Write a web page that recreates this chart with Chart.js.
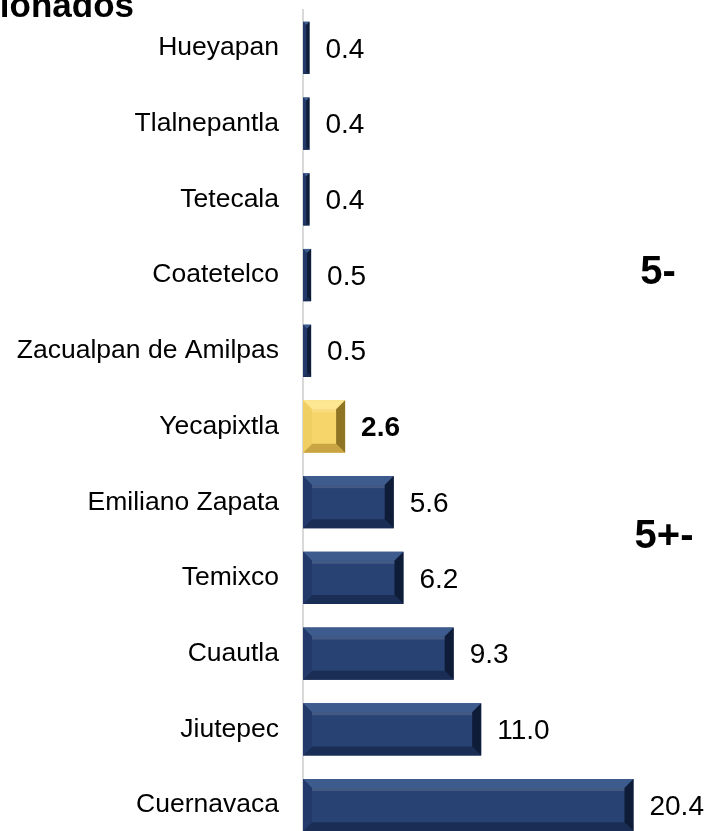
<!DOCTYPE html>
<html lang="es">
<head>
    <meta charset="UTF-8">
    <title>Municipios seleccionados</title>
    <script src="https://cdn.jsdelivr.net/npm/chart.js"></script>
    <style>
        html, body { margin: 0; padding: 0; background: #fff; overflow: hidden; }
        .chart-box { position: relative; width: 710px; height: 843px; }
    </style>
</head>
<body>
    <div class="chart-box">
        <canvas id="barChart"></canvas>
    </div>

    <script>
        const categories = ['Hueyapan', 'Tlalnepantla', 'Tetecala', 'Coatetelco', 'Zacualpan de Amilpas',
                            'Yecapixtla', 'Emiliano Zapata', 'Temixco', 'Cuautla', 'Jiutepec', 'Cuernavaca'];
        const values = [0.4, 0.4, 0.4, 0.5, 0.5, 2.6, 5.6, 6.2, 9.3, 11.0, 20.4];
        const highlighted = 'Yecapixtla';
        const titleText = 'Municipios seleccionados';
        const groupNotes = ['5-', '5+-'];

        const FONT = "'Liberation Sans', Arial, sans-serif";
        const NAVY = { main: '#284373', top: '#3d5b8c', left: '#22396a', bottom: '#1a2d55', right: '#0f1c38' };
        const GOLD = { main: '#f6d66b', top: '#fde792', left: '#f0cf62', bottom: '#c9a443', right: '#8f7424' };

        const isHi = i => categories[i] === highlighted;

        // bevel look of the office-style bars
        const bevelPlugin = {
            id: 'bevel',
            afterDatasetsDraw(chart) {
                const ctx = chart.ctx;
                chart.getDatasetMeta(0).data.forEach((bar, i) => {
                    const p = bar.getProps(['x', 'y', 'base', 'height'], true);
                    const L = Math.min(p.base, p.x), R = Math.max(p.base, p.x);
                    const T = p.y - p.height / 2, B = p.y + p.height / 2;
                    const b = Math.min(9, (R - L) / 2, p.height / 2);
                    const c = isHi(i) ? GOLD : NAVY;
                    const quad = (pts, col) => {
                        ctx.beginPath();
                        ctx.moveTo(pts[0][0], pts[0][1]);
                        pts.slice(1).forEach(q => ctx.lineTo(q[0], q[1]));
                        ctx.closePath();
                        ctx.fillStyle = col;
                        ctx.fill();
                    };
                    ctx.save();
                    quad([[L, T], [R, T], [R - b, T + b], [L + b, T + b]], c.top);
                    quad([[L, B], [R, B], [R - b, B - b], [L + b, B - b]], c.bottom);
                    quad([[L, T], [L + b, T + b], [L + b, B - b], [L, B]], c.left);
                    quad([[R, T], [R - b, T + b], [R - b, B - b], [R, B]], c.right);
                    // soft highlight under the top edge
                    ctx.fillStyle = 'rgba(255,255,255,0.12)';
                    ctx.fillRect(L + b, T + b, Math.max(0, R - L - 2 * b), 3);
                    ctx.restore();
                });
            }
        };

        const labelPlugin = {
            id: 'labels',
            afterDraw(chart) {
                const ctx = chart.ctx;
                const ys = chart.scales.y;
                const area = chart.chartArea;
                ctx.save();
                ctx.textBaseline = 'middle';
                ctx.textAlign = 'left';
                chart.getDatasetMeta(0).data.forEach((bar, i) => {
                    ctx.font = (isHi(i) ? 'bold ' : '') + '28px ' + FONT;
                    ctx.fillStyle = '#000';
                    ctx.fillText(values[i].toFixed(1), bar.x + 16, bar.y + 2);
                });

                // group notes on the right
                ctx.font = 'bold 40px ' + FONT;
                ctx.textAlign = 'center';
                ctx.fillText(groupNotes[0], area.right - 50, ys.getPixelForValue(3) - 2);
                ctx.fillText(groupNotes[1], area.right - 44, (ys.getPixelForValue(6) + ys.getPixelForValue(7)) / 2 - 3);

                // title, cut off at the left edge like the slide
                ctx.font = 'bold 35px ' + FONT;
                ctx.textAlign = 'right';
                ctx.textBaseline = 'alphabetic';
                ctx.fillText(titleText, 134, 17);
                ctx.restore();
            }
        };

        new Chart(document.getElementById('barChart'), {
            type: 'bar',
            data: {
                labels: categories,
                datasets: [{
                    data: values,
                    backgroundColor: categories.map((c, i) => isHi(i) ? GOLD.main : NAVY.main),
                    borderWidth: 0,
                    barPercentage: 0.69,
                    categoryPercentage: 1
                }]
            },
            options: {
                indexAxis: 'y',
                responsive: true,
                maintainAspectRatio: false,
                animation: false,
                layout: { padding: { top: 10, right: 2, bottom: 0, left: 0 } },
                plugins: { legend: { display: false }, tooltip: { enabled: false } },
                scales: {
                    x: { display: false, min: 0, max: 25 },
                    y: {
                        grid: { display: false, drawTicks: false },
                        border: { display: true, color: '#d9d9d9', width: 2 },
                        ticks: { color: '#000', padding: 24, font: { family: FONT, size: 26.5 } },
                        afterFit(s) { s.width = 303; s.paddingTop = 0; s.paddingBottom = 0; }
                    }
                }
            },
            plugins: [bevelPlugin, labelPlugin]
        });
    </script>
</body>
</html>
